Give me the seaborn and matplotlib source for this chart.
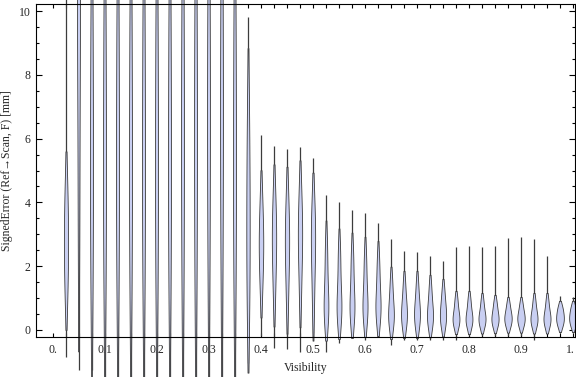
import numpy as np
import pandas as pd
import matplotlib
matplotlib.use("Agg")
import matplotlib.pyplot as plt
import matplotlib.transforms as mtransforms
import seaborn as sns

# visibility bins (centre of each violin)
visibility = [round(0.025 * k, 3) for k in range(1, 41)]

# lowest / highest value of each distribution (thin tails)
err_min = [-0.85, -1.25, -1.25, -1.8, -1.8, -1.8, -1.8, -1.8, -1.8, -1.8,
           -1.8, -1.8, -1.8, -1.8, -1.03, -0.2, -0.55, -0.6, -0.7, -0.1,
           -0.7, -0.4, -0.2, -0.3, -0.2, -0.47, -0.3, -0.3, -0.3, -0.3,
           -0.3, -0.2, -0.2, -0.2, -0.2, -0.2, -0.3, -0.1, -0.1, -0.1]
err_max = [11.0, 14.0, 14.0, 14.0, 14.0, 14.0, 14.0, 14.0, 14.0, 14.0,
           14.0, 14.0, 14.0, 14.0, 9.8, 6.1, 5.77, 5.67, 5.74, 5.39,
           4.23, 4.0, 3.76, 3.66, 3.35, 2.85, 2.48, 2.45, 2.32, 2.16,
           2.6, 2.63, 2.6, 2.63, 2.88, 2.91, 2.85, 2.32, 1.07, 1.03]

# quantiles of the bulk of each distribution
err_body = [
    [1.0, 2.0, 2.8, 3.5, 4.6],
    [2.0, 5.0, 8.0, 10.0, 11.0, 12.0],
    [0.5, 2.5, 4.0, 5.5, 7.0, 9.0, 11.0],
    [0.5, 2.5, 4.0, 5.5, 7.0, 9.0, 11.0],
    [0.5, 2.5, 4.0, 5.5, 7.0, 9.0, 11.0],
    [0.5, 2.5, 4.0, 5.5, 7.0, 9.0, 11.0],
    [0.5, 2.5, 4.0, 5.5, 7.0, 9.0, 11.0],
    [0.5, 2.5, 4.0, 5.5, 7.0, 9.0, 11.0],
    [0.5, 2.5, 4.0, 5.5, 7.0, 9.0, 11.0],
    [0.5, 2.5, 4.5, 6.0, 7.5, 9.5, 11.5],
    [0.5, 2.5, 4.5, 6.0, 7.5, 9.5, 11.5],
    [0.5, 3.0, 5.0, 6.5, 8.0, 10.0, 12.0],
    [0.5, 3.0, 5.0, 6.5, 8.0, 10.0, 12.0],
    [0.5, 2.5, 4.0, 5.5, 7.0, 9.0, 11.0],
    [0.5, 2.0, 3.5, 5.0, 7.0],
    [1.2, 2.2, 2.7, 3.2, 4.2],
    [1.0, 2.2, 2.8, 3.3, 4.3],
    [0.8, 2.1, 2.7, 3.2, 4.2],
    [1.0, 2.3, 2.9, 3.4, 4.4],
    [0.6, 2.0, 2.7, 3.2, 4.0],
    [0.3, 0.5, 0.7, 0.9, 1.5, 2.2, 2.8],
    [0.3, 0.5, 0.7, 0.9, 1.4, 2.1, 2.6],
    [0.3, 0.5, 0.7, 0.9, 1.4, 2.0, 2.5],
    [0.3, 0.5, 0.7, 0.9, 1.3, 1.9, 2.4],
    [0.3, 0.5, 0.7, 0.9, 1.3, 1.8, 2.3],
    [0.1, 0.3, 0.5, 0.7, 1.1, 1.6],
    [0.1, 0.3, 0.5, 0.7, 1.0, 1.5],
    [0.1, 0.3, 0.5, 0.7, 1.0, 1.5],
    [0.1, 0.3, 0.45, 0.65, 0.95, 1.4],
    [0.1, 0.3, 0.45, 0.65, 0.9, 1.3],
    [0.1, 0.25, 0.35, 0.45, 0.7, 1.0],
    [0.1, 0.25, 0.35, 0.45, 0.7, 1.0],
    [0.1, 0.25, 0.35, 0.45, 0.65, 0.95],
    [0.1, 0.25, 0.35, 0.45, 0.65, 0.9],
    [0.1, 0.25, 0.35, 0.45, 0.6, 0.85],
    [0.1, 0.25, 0.35, 0.45, 0.6, 0.85],
    [0.1, 0.25, 0.35, 0.45, 0.65, 0.95],
    [0.1, 0.25, 0.35, 0.45, 0.65, 0.95],
    [0.1, 0.25, 0.35, 0.45, 0.6, 0.75],
    [0.1, 0.25, 0.35, 0.45, 0.6, 0.75],
]

x_ticks = [0.0, 0.1, 0.2, 0.3, 0.4, 0.5, 0.6, 0.7, 0.8, 0.9, 1.0]
x_tick_labels = ["0.", "0.1", "0.2", "0.3", "0.4", "0.5", "0.6", "0.7", "0.8", "0.9", "1."]
y_ticks = [0, 2, 4, 6, 8, 10]
y_tick_labels = ["0", "2", "4", "6", "8", "10"]

sns.set_style("ticks")
plt.rcParams["font.family"] = ["Liberation Serif", "DejaVu Serif"]
plt.rcParams["font.size"] = 8.5

fig = plt.figure(figsize=(5.76, 3.77), dpi=100)
ax = fig.add_axes([36 / 576, 40 / 377, 539 / 576, 333 / 377])

fill = "#c9cff2"
edge = "#3c3c3c"

# thin tails
ax.vlines(visibility, err_min, err_max, color=edge, lw=0.9, zorder=1, clip_on=False)

# violin bodies, one call per bin so each keeps its own width
px = 1 / 520  # data units per pixel on x
for pos, vals in zip(visibility, err_body):
    sd = np.std(vals)
    w = 4.5 / sd ** 0.35 * px
    df = pd.DataFrame({"vis": [pos] * len(vals), "err": vals})
    sns.violinplot(data=df, x="vis", y="err", native_scale=True, width=w,
                   inner=None, cut=1, color=fill, saturation=1,
                   linecolor=edge, linewidth=0.6, ax=ax, zorder=2)

for c in ax.collections:
    c.set_clip_on(False)

ax.set_xlim(-17 / 520, 1 + 2 / 520)
ax.set_ylim(-0.22, 10.22)

ax.set_xticks(x_ticks)
ax.set_xticklabels(x_tick_labels)
ax.set_xticks(np.arange(0, 1.001, 0.025), minor=True)
ax.set_yticks(y_ticks)
ax.set_yticklabels(y_tick_labels)
ax.set_yticks(np.arange(0, 10.01, 0.5), minor=True)

ax.tick_params(which="both", direction="in", top=True, right=True,
               width=0.8, color="black", labelsize=8.5)
ax.tick_params(axis="y", which="major", length=4.5, pad=4)
ax.tick_params(axis="y", which="minor", length=2.5)
ax.tick_params(axis="x", which="both", length=3, pad=5)

# keep the last tick label inside the picture
last = ax.get_xticklabels()[-1]
last.set_transform(last.get_transform() +
                   mtransforms.ScaledTranslation(-3 / 100, 0, fig.dpi_scale_trans))

for s in ax.spines.values():
    s.set_visible(True)
    s.set_linewidth(0.8)
    s.set_color("black")

ax.set_xlabel("Visibility", fontsize=8.5, labelpad=4)
ax.set_ylabel("SignedError (Ref\u2192Scan, F) [mm]", fontsize=8.5, labelpad=4)

fig.savefig("out.png", dpi=100)
